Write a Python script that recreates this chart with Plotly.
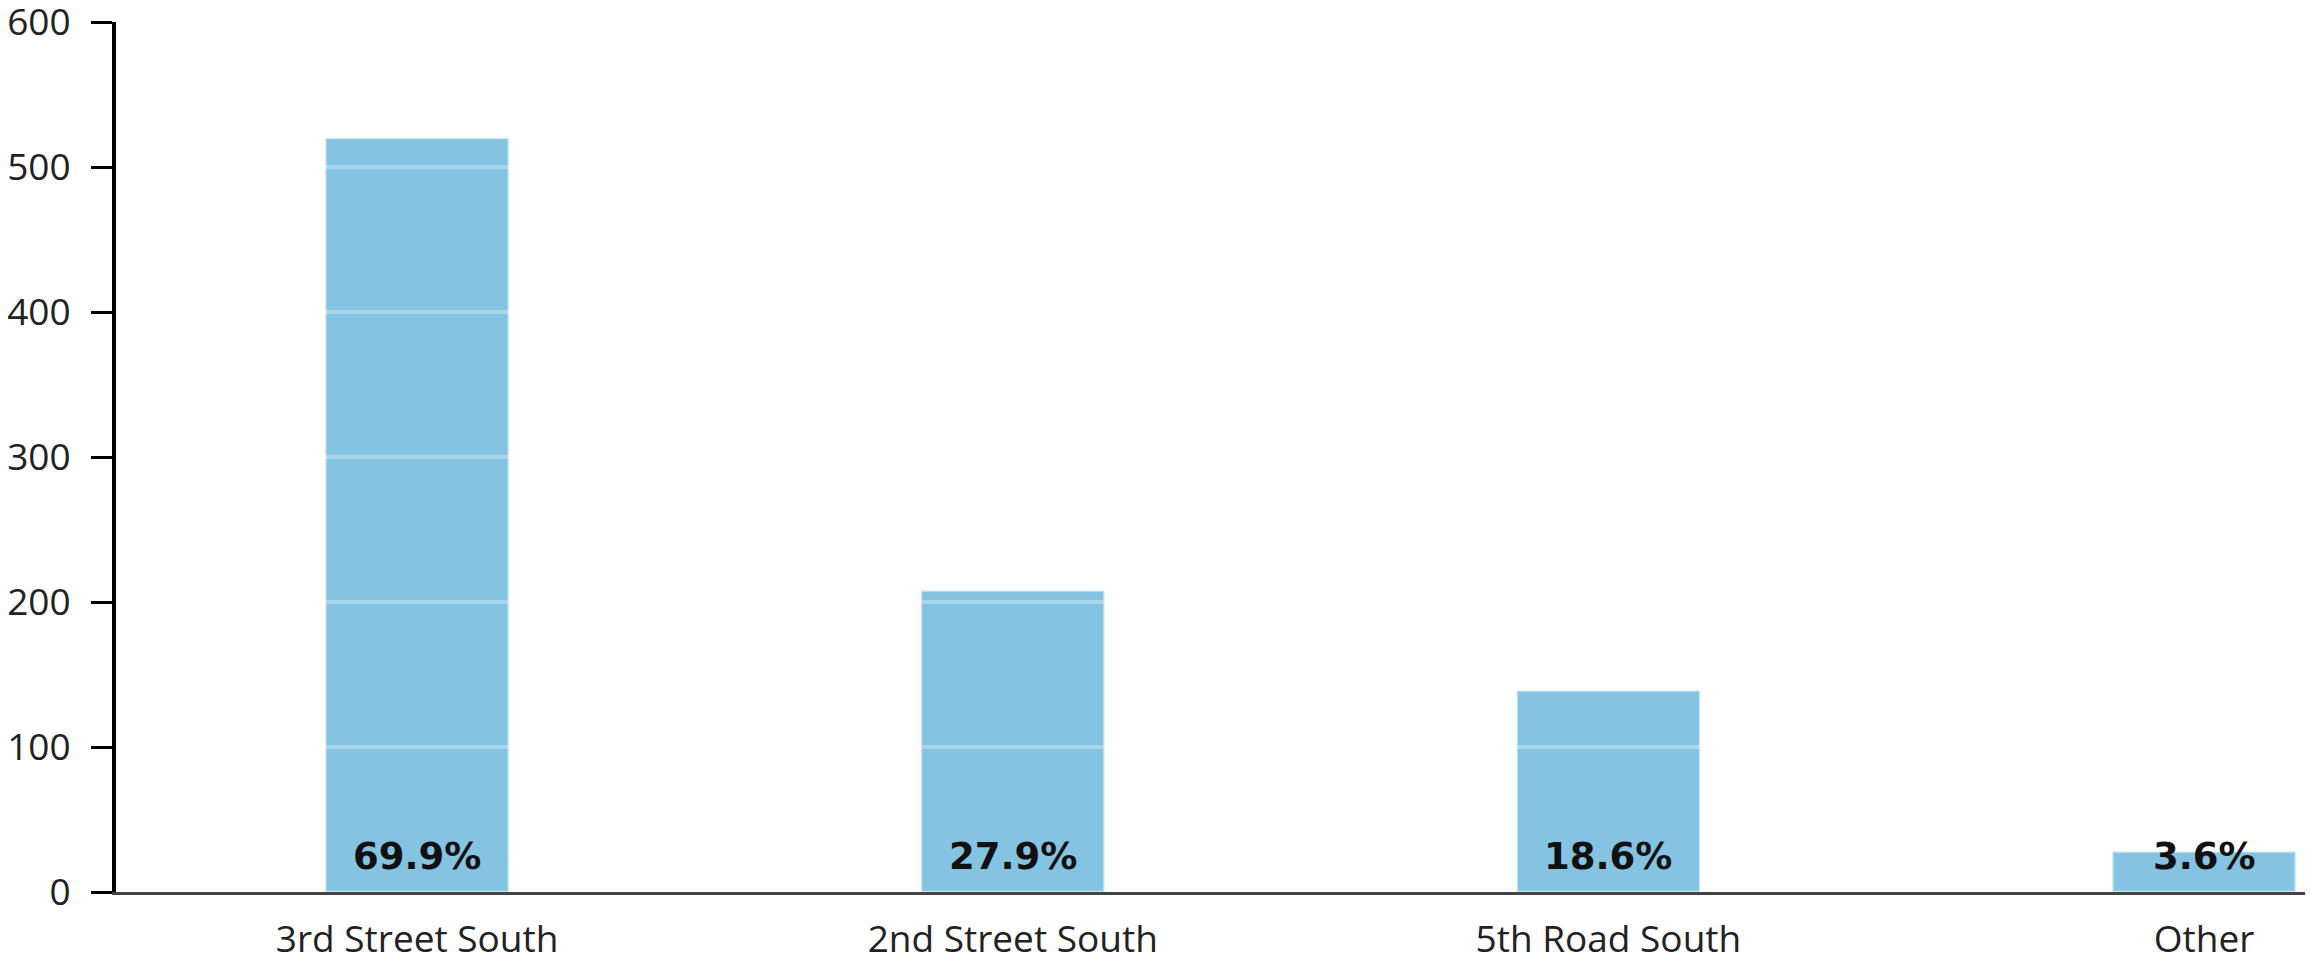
import plotly.graph_objects as go

categories = ["3rd Street South", "2nd Street South", "5th Road South", "Other"]
values = [520, 208, 139, 28]
pct_labels = ["69.9%", "27.9%", "18.6%", "3.6%"]
y_ticks = [0, 100, 200, 300, 400, 500, 600]

BAR = "#85c3e3"

fig = go.Figure()
fig.add_trace(go.Bar(
    x=categories, y=values, width=0.308,
    marker=dict(color=BAR, line=dict(color="rgba(255,255,255,0.55)", width=2.5)),
    hoverinfo="skip",
))

# percentage labels at the base of each bar
for c, t in zip(categories, pct_labels):
    fig.add_annotation(x=c, y=0, text=t, showarrow=False, yanchor="bottom",
                       yshift=12,
                       font=dict(family="DejaVu Sans", size=37, color="#111111", weight=700))

# light gridlines visible only over bars (white on white elsewhere)
for v in y_ticks[1:-1]:
    fig.add_shape(type="line", xref="x domain", yref="y", x0=0.003, x1=1, y0=v, y1=v,
                  line=dict(color="rgba(255,255,255,0.3)", width=4), layer="above")

fig.update_layout(
    width=2305, height=954,
    margin=dict(l=108, r=0, t=14, b=70, autoexpand=False),
    paper_bgcolor="white", plot_bgcolor="white",
    showlegend=False,
    font=dict(family="Open Sans", size=37, color="#222222"),
    xaxis=dict(range=[-0.5055, 3.183], showgrid=False, showline=True, automargin=False,
               linecolor="#444444", linewidth=3, ticks="", ticklabelstandoff=13,
               ticklabeloverflow="allow",
               tickfont=dict(family="Open Sans", size=37, color="#222222")),
    yaxis=dict(range=[0, 600], tickvals=y_ticks, showgrid=False, zeroline=False,
               showline=True, linecolor="#000000", linewidth=4, automargin=False,
               ticks="outside", ticklen=21, tickwidth=3, tickcolor="#000000",
               ticklabelstandoff=13, ticklabeloverflow="allow",
               tickfont=dict(family="Open Sans", size=37, color="#222222")),
)

fig.write_html("out.html")
